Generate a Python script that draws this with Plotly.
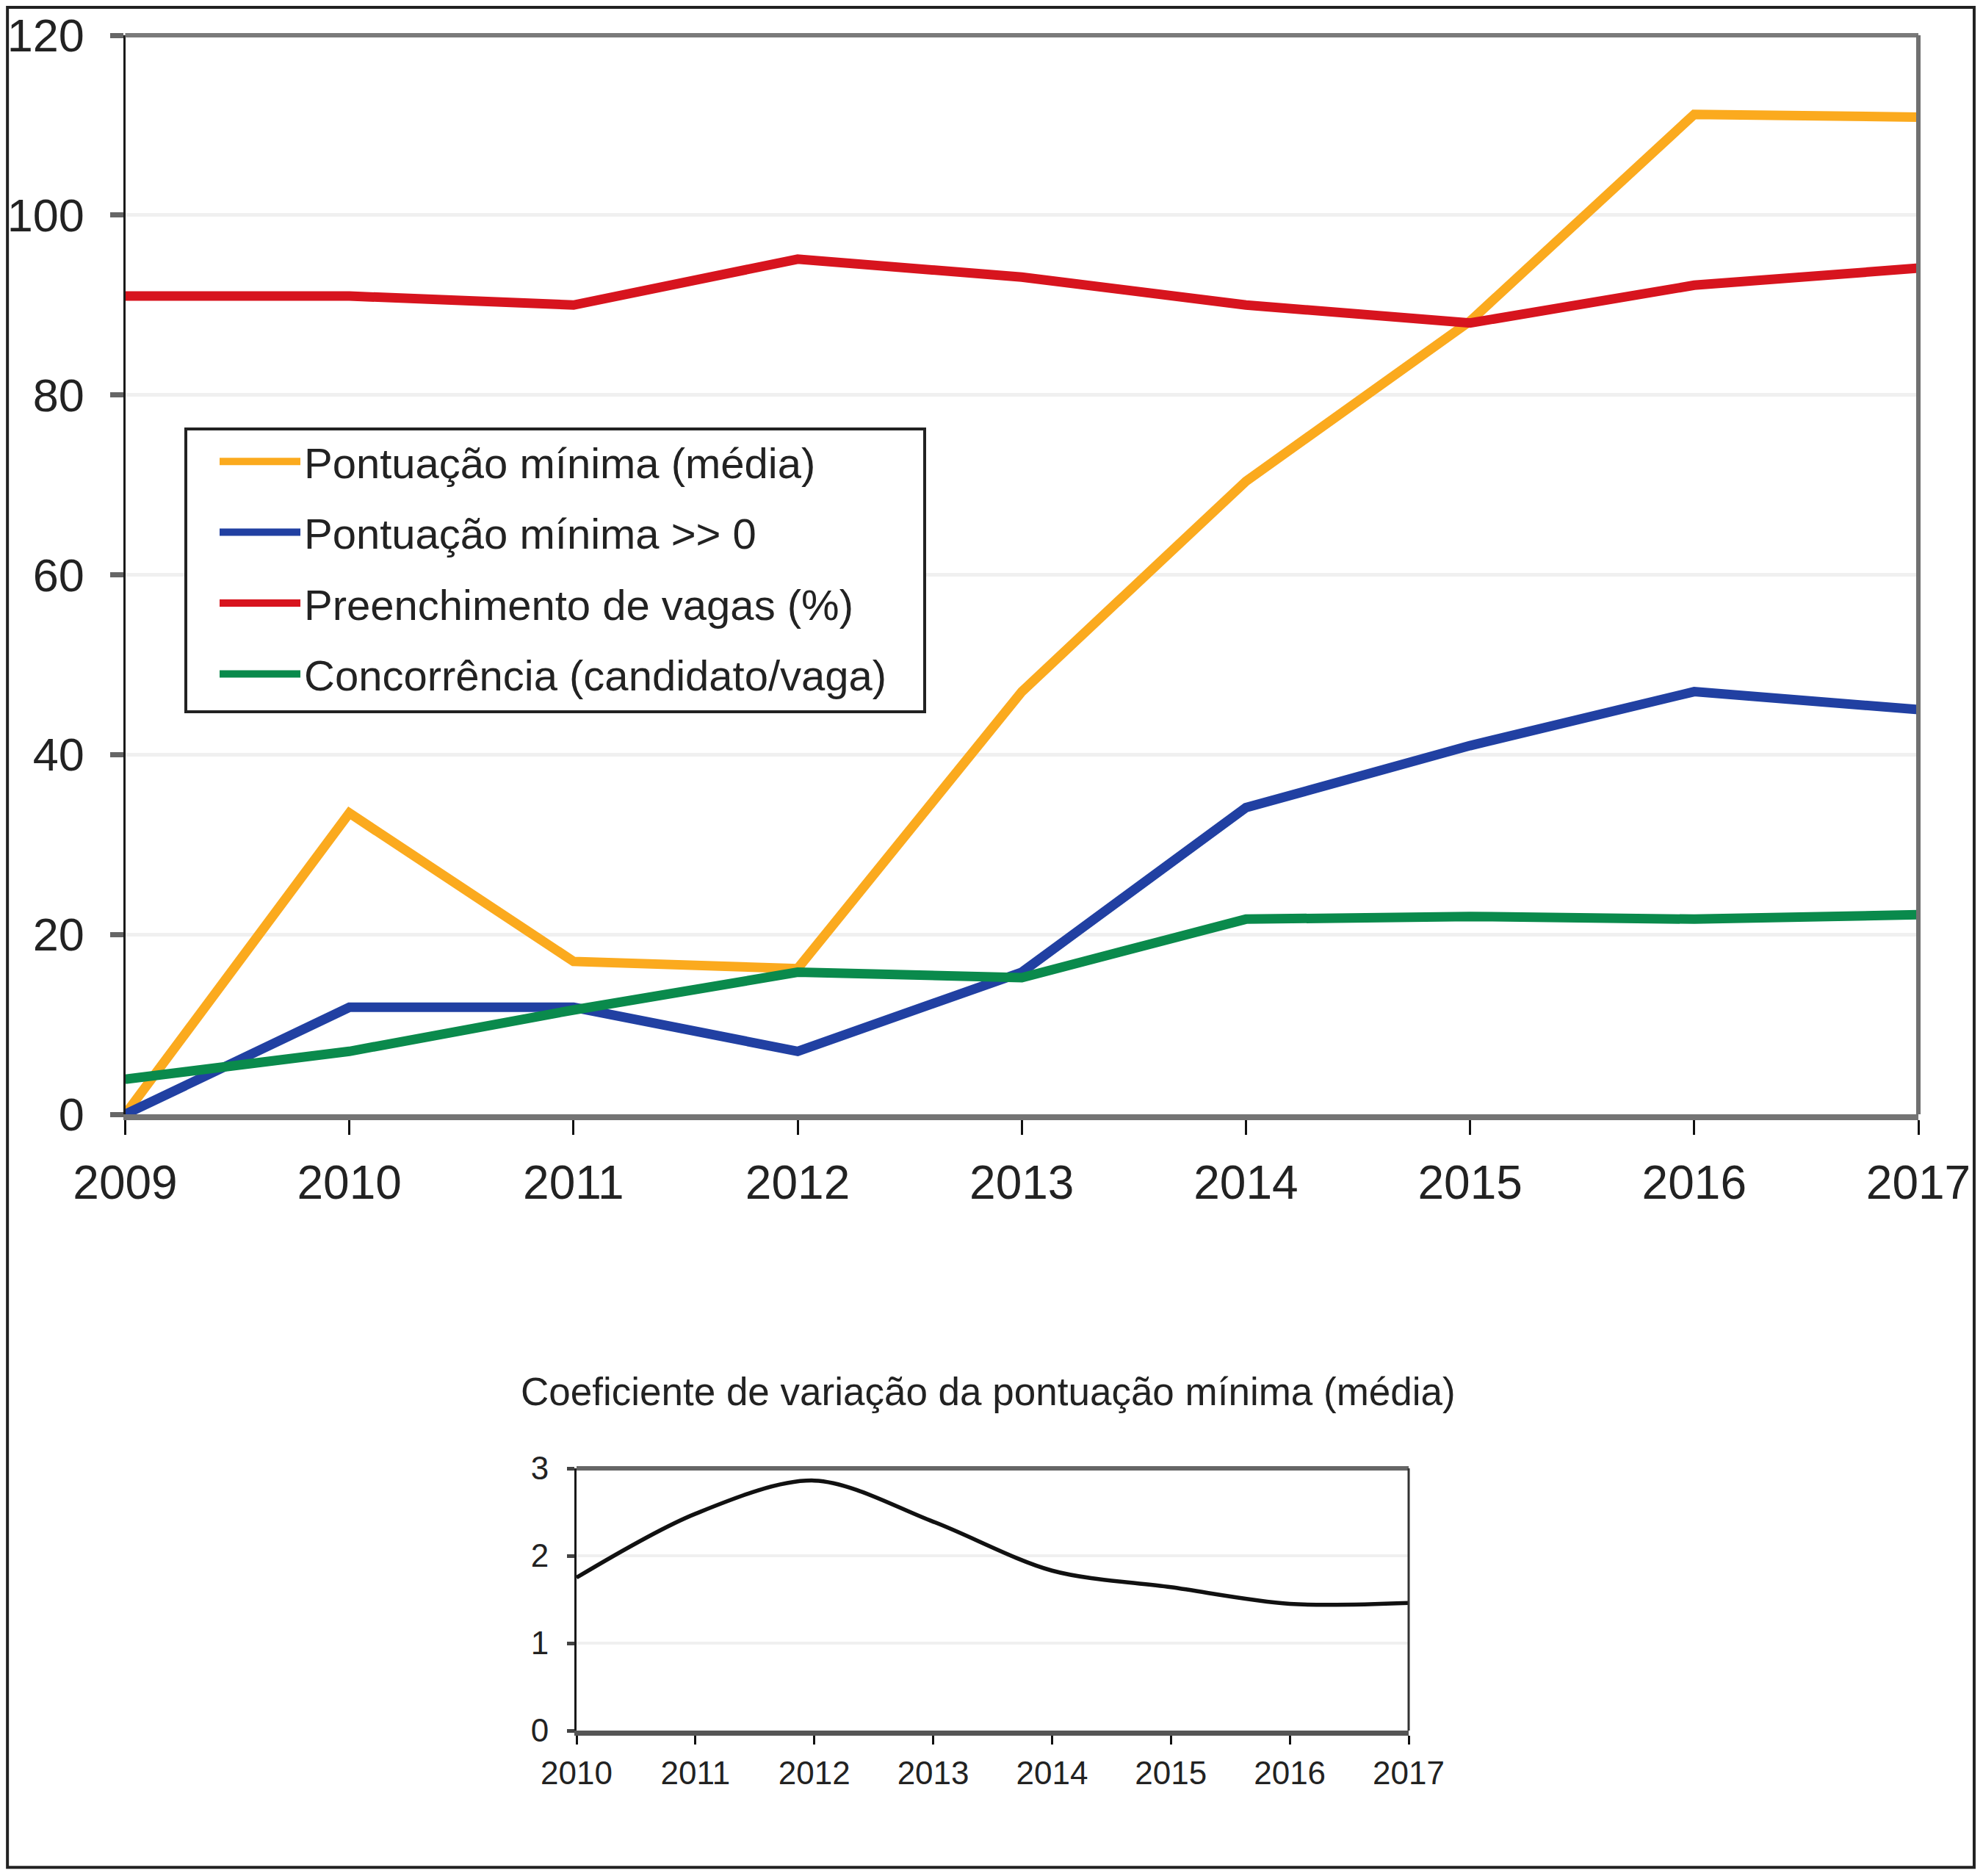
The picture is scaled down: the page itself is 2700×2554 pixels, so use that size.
import plotly.graph_objects as go

years = [2009, 2010, 2011, 2012, 2013, 2014, 2015, 2016, 2017]
pont_media = [0, 33.5, 17.0, 16.2, 47.0, 70.4, 88.2, 111.2, 110.9]
pont_maior0 = [0, 11.9, 11.9, 7.0, 15.8, 34.1, 41.0, 47.0, 45.0]
preench = [91.0, 91.0, 90.0, 95.1, 93.1, 90.0, 88.0, 92.2, 94.1]
concorr = [3.9, 7.0, 11.6, 15.8, 15.2, 21.7, 22.0, 21.7, 22.2]

series_names = ["Pontuação mínima (média)", "Pontuação mínima >> 0",
                "Preenchimento de vagas (%)", "Concorrência (candidato/vaga)"]
series_colors = ["#FBAA1E", "#2140A2", "#D7141E", "#0A8A4C"]

cv_years = [2010, 2011, 2012, 2013, 2014, 2015, 2016, 2017]
cv_values = [1.75, 2.48, 2.86, 2.39, 1.83, 1.64, 1.45, 1.46]
cv_title = "Coeficiente de variação da pontuação mínima (média)"

FONT = "Liberation Sans, Arial, Helvetica, sans-serif"
TXT = "#222222"

# page body has an 8px margin: the figure sits at (8, 8) in the window
OFF = 8
W, H = 2700 - 2 * OFF, 2554 - 2 * OFF


def px(X):
    return (X - OFF) / W


def py(Y):
    return 1 - (Y - OFF) / H


fig = go.Figure()
for i, (vals, name, col) in enumerate(zip([pont_media, pont_maior0, preench, concorr],
                                         series_names, series_colors)):
    fig.add_trace(go.Scatter(x=years, y=vals, mode="lines", name=name,
                             legendgroup="g%d" % i,
                             line=dict(color=col, width=13),
                             xaxis="x", yaxis="y"))

fig.add_trace(go.Scatter(x=cv_years, y=cv_values, mode="lines", showlegend=False,
                         line=dict(color="#111111", width=5.5, shape="spline", smoothing=0.9),
                         xaxis="x2", yaxis="y2"))

# main axes
fig.update_layout(
    xaxis=dict(domain=[px(170.5), px(2612)], range=[2009, 2017], tickvals=years,
               ticktext=[str(y) for y in years], anchor="y", automargin=False,
               showgrid=False, zeroline=False, showline=True, linecolor="#747474",
               linewidth=8, ticks="outside", ticklen=20, tickwidth=3,
               tickcolor="#111111", ticklabelstandoff=10, ticklabeloverflow="allow",
               tickfont=dict(family=FONT, size=64, color=TXT)),
    yaxis=dict(domain=[py(1517), py(48)], range=[0, 120], dtick=20, anchor="x",
               automargin=False, ticklabeloverflow="allow",
               showgrid=True, gridcolor="#F0F0F0", gridwidth=5, zeroline=False,
               showline=True, linecolor="#1a1a1a", linewidth=3,
               ticks="outside", ticklen=18, tickwidth=7, tickcolor="#666666",
               ticklabelstandoff=22,
               tickfont=dict(family=FONT, size=63, color=TXT)),
)

# second chart axes
fig.update_layout(
    xaxis2=dict(domain=[px(785), px(1918)], range=[2010, 2017], tickvals=cv_years,
                ticktext=[str(y) for y in cv_years], anchor="y2", automargin=False,
                showgrid=False, zeroline=False, showline=True, linecolor="#555555",
                linewidth=7, ticks="outside", ticklen=12, tickwidth=3,
                tickcolor="#111111", ticklabelstandoff=1, ticklabeloverflow="allow",
                tickfont=dict(family=FONT, size=44, color=TXT)),
    yaxis2=dict(domain=[py(2356), py(1999)], range=[0, 3], dtick=1, anchor="x2",
                automargin=False, ticklabeloverflow="allow",
                showgrid=True, gridcolor="#F0F0F0", gridwidth=4, zeroline=False,
                showline=True, linecolor="#1a1a1a", linewidth=3,
                ticks="outside", ticklen=10, tickwidth=5, tickcolor="#444444",
                ticklabelstandoff=16,
                tickfont=dict(family=FONT, size=44, color=TXT)),
)

shapes = [
    # main chart top and right frame
    dict(type="line", xref="x domain", yref="y domain", x0=0, x1=1, y0=1, y1=1,
         line=dict(color="#7a7a7a", width=6)),
    dict(type="line", xref="x domain", yref="y domain", x0=1, x1=1, y0=0, y1=1,
         line=dict(color="#707070", width=6)),
    # second chart top and right frame
    dict(type="line", xref="x2 domain", yref="y2 domain", x0=0, x1=1, y0=1, y1=1,
         line=dict(color="#666666", width=6)),
    dict(type="line", xref="x2 domain", yref="y2 domain", x0=1, x1=1, y0=0, y1=1,
         line=dict(color="#333333", width=3)),
    # legend box
    dict(type="rect", xref="paper", yref="paper", layer="above",
         x0=px(253), x1=px(1259), y0=py(969), y1=py(584),
         fillcolor="white", line=dict(color="#222222", width=4)),
    # outer border
    dict(type="rect", xref="paper", yref="paper", x0=0.0008, x1=0.9985, y0=0.0015, y1=0.9992,
         line=dict(color="#222222", width=4)),
]

fig.update_layout(
    width=W, height=H,
    margin=dict(l=0, r=0, t=0, b=0, pad=0, autoexpand=False),
    paper_bgcolor="white", plot_bgcolor="white",
    shapes=shapes,
    showlegend=True,
    legend=dict(x=px(294), y=py(584), xanchor="left", yanchor="top",
                bgcolor="rgba(0,0,0,0)", borderwidth=0,
                font=dict(family=FONT, size=58, color=TXT),
                tracegroupgap=18, itemwidth=110),
    annotations=[dict(text=cv_title, xref="paper", yref="paper",
                      x=px(1345), y=py(1894), xanchor="center", yanchor="middle",
                      showarrow=False, font=dict(family=FONT, size=53, color=TXT))],
)

fig.write_html("out.html")
